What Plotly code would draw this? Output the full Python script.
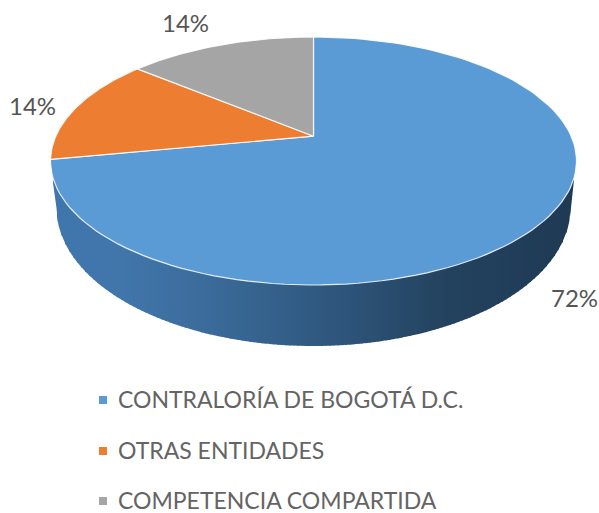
import numpy as np
import plotly.graph_objects as go

categories = ["CONTRALORÍA DE BOGOTÁ D.C.", "OTRAS ENTIDADES", "COMPETENCIA COMPARTIDA"]
values = [72, 14, 14]
percent_labels = ["72%", "14%", "14%"]
colors = ["#5B9BD5", "#ED7D31", "#A5A5A5"]
side_stops = [(0.0, "#3F76AC"), (0.12, "#4277AC"), (0.3, "#3B6B9A"), (0.5, "#315A82"), (0.75, "#24435F"), (1.0, "#1F3A55")]

W, H = 599, 513
CX, CY, RX, RY, K = 313.5, 161.0, 263.0, 124.0, 0.2
BCY, BRX, BRY = 208.0, 257.0, 138.0
SIDE_L, SIDE_R, JOIN_L, JOIN_R = 53.0, 574.0, 183.0, 180.0
FONT = "Lato, 'Open Sans', sans-serif"


def project(t):
    u, v = np.sin(t), np.cos(t)
    d = 1 + K * v
    return CX + RX * np.sqrt(1 - K * K) * u / d, CY - RY * (v + K) / d


def hex_rgb(h):
    return np.array([int(h[i:i + 2], 16) for i in (1, 3, 5)], dtype=float)


def side_color(f):
    xs = [s[0] for s in side_stops]
    rgb = [np.interp(f, xs, [hex_rgb(s[1])[i] for s in side_stops]) for i in range(3)]
    return "rgb(%d,%d,%d)" % tuple(rgb)


def top_y(x):
    return CY + RY * np.sqrt(np.clip(1 - ((x - CX) / RX) ** 2, 0, 1))


def bot_y(x):
    y = BCY + BRY * np.sqrt(np.clip(1 - ((x - CX) / BRX) ** 2, 0, 1))
    left = x < CX - BRX
    right = x > CX + BRX
    y = np.where(left, np.interp(x, [SIDE_L, CX - BRX], [JOIN_L, BCY]), y)
    y = np.where(right, np.interp(x, [CX + BRX, SIDE_R], [BCY, JOIN_R]), y)
    return y


fig = go.Figure()

# side wall, drawn as narrow vertical strips to obtain the horizontal gradient
edges = np.linspace(SIDE_L, SIDE_R, 131)
for a, b in zip(edges[:-1], edges[1:]):
    xs = np.linspace(a, min(b + 1.0, SIDE_R), 4)
    lower = bot_y(xs)
    upper = np.minimum(top_y(xs) - 6, lower)
    fig.add_trace(go.Scatter(
        x=np.r_[xs, xs[::-1]], y=np.r_[upper, lower[::-1]], mode="lines", fill="toself",
        fillcolor=side_color((a - edges[0]) / (edges[-1] - edges[0])),
        line=dict(width=0), hoverinfo="skip", showlegend=False))

# top face of the pie
total = sum(values)
cum = 0.0
apex_x, apex_y = CX, CY - RY * K
for val, col, name in zip(values, colors, categories):
    t = np.linspace(cum, cum + val, 120) / total * 2 * np.pi
    px, py = project(t)
    cum += val
    fig.add_trace(go.Scatter(
        x=np.r_[apex_x, px, apex_x], y=np.r_[apex_y, py, apex_y], mode="lines", fill="toself",
        fillcolor=col, line=dict(color="rgba(255,255,255,0.85)", width=1.2),
        name=name, showlegend=False, hoverinfo="name"))

# legend markers
legend_y = [400, 451, 501]
for y, col, name in zip(legend_y, colors, categories):
    fig.add_trace(go.Scatter(x=[103], y=[y], mode="markers",
                             marker=dict(symbol="square", size=8, color=col),
                             name=name, showlegend=False, hoverinfo="name"))

annotations = []
for y, name in zip(legend_y, categories):
    annotations.append(dict(x=116, y=y - 1, text=name, xanchor="left", yanchor="middle",
                            showarrow=False, font=dict(family=FONT, size=23, color="#646464")))
for (x, y), lab in zip([(574, 297), (32, 105), (185, 22)], percent_labels):
    annotations.append(dict(x=x, y=y, text=lab, xanchor="center", yanchor="middle",
                            showarrow=False, font=dict(family=FONT, size=24, color="#555555")))

fig.update_layout(
    width=W, height=H, margin=dict(l=0, r=0, t=0, b=0),
    paper_bgcolor="white", plot_bgcolor="white", annotations=annotations,
    xaxis=dict(range=[0, W], visible=False, fixedrange=True),
    yaxis=dict(range=[H, 0], visible=False, fixedrange=True),
)
fig.write_html("out.html", post_script='document.body.style.margin="0";',
               config=dict(displayModeBar=False))
